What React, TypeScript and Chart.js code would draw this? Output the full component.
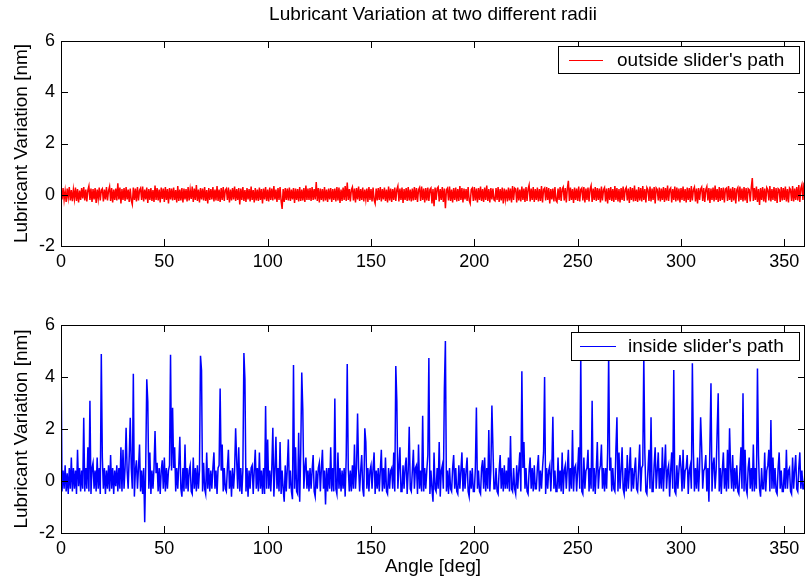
import React, { useEffect, useRef } from 'react';
import { Chart, registerables } from 'chart.js';

Chart.register(...registerables);

const FONT = "'Liberation Sans', Arial, Helvetica, sans-serif";

const TITLE = 'Lubricant Variation at two different radii';
const Y_TITLE = 'Lubricant Variation [nm]';
const X_TITLE = 'Angle [deg]';
const OUTSIDE_LABEL = "outside slider's path";
const INSIDE_LABEL = "inside slider's path";

const X_TICKS = [0, 50, 100, 150, 200, 250, 300, 350];
const Y_TICKS = [-2, 0, 2, 4, 6];
const X_MIN = 0;
const X_MAX = 360;
const Y_MIN = -2;
const Y_MAX = 6;
const STEP_DEG = 0.5; // sample spacing of the series below

// outside slider's path (nm), one value every 0.5 deg from 0 to 360
const outsideValues = [
  .22,-.18,.26,-.2,.15,-.28,.24,-.12,.3,-.22,.18,-.25,.2,-.16,.28,-.24,.22,-.3,.16,-.2,
  .26,-.14,.3,-.22,.2,-.26,.18,.34,-.2,.24,-.28,.22,-.18,.26,-.32,.2,-.16,.28,-.22,.18,
  .24,-.26,.2,-.18,.3,-.22,.16,.32,-.24,.26,-.3,.2,-.2,.24,-.22,.45,-.18,.28,-.34,.22,
  -.2,.26,-.24,.3,-.18,.2,-.28,.24,-.22,-.38,.28,-.2,.24,-.26,.3,-.22,.18,.26,-.2,.32,
  -.26,.2,-.18,.28,-.32,.22,-.2,.26,-.24,.18,-.28,.36,-.2,.26,-.22,.2,-.3,.28,-.16,.24,
  -.28,.3,-.2,.22,-.34,.26,-.18,.24,-.22,.28,-.2,.18,-.3,.34,-.24,.2,-.22,.26,-.3,.24,
  -.18,.22,-.26,.3,-.22,.2,-.16,.32,-.28,.24,-.2,.38,-.24,.2,-.3,.26,-.18,.24,-.22,.3,
  -.24,.18,-.34,.26,-.2,.22,-.18,.3,-.26,.2,-.22,.34,-.24,.2,-.28,.26,-.2,.3,-.24,.18,
  .24,-.2,.28,-.3,.2,-.22,.26,-.18,.32,-.24,.22,-.2,.26,-.38,.24,-.2,.3,-.24,.18,-.28,
  .26,-.18,.22,-.26,.32,-.2,.18,-.3,.26,-.22,.2,-.24,.28,-.2,.22,-.34,.24,-.18,.3,-.24,
  .2,-.26,.28,-.2,.24,-.22,.34,-.18,.2,-.28,.26,-.2,.3,-.24,-.55,.22,-.28,.26,-.2,.24,
  -.22,.28,-.24,.2,-.18,.26,-.32,.24,-.2,.22,-.26,.3,-.24,.2,-.22,.26,-.28,.36,-.2,.24,
  -.2,.26,-.24,.3,-.2,.22,-.18,.5,-.24,.26,-.3,.24,-.2,.22,-.26,.3,-.22,.2,-.28,.24,
  -.18,.26,-.28,.22,-.2,.24,-.26,.3,-.22,.28,-.32,.2,-.24,.28,-.2,.34,-.24,.48,-.2,.22,
  -.26,.2,.3,-.22,.24,-.3,.26,-.18,.32,-.24,.22,-.2,.28,-.26,.2,-.18,.24,-.28,.3,-.2,
  .22,-.26,.28,-.2,-.34,.24,-.22,.26,-.2,.3,-.26,.22,-.18,.28,-.24,.2,-.3,.32,-.22,.24,
  -.28,.22,-.2,.28,-.24,.2,.34,-.26,.24,-.2,.28,-.32,.22,-.2,.26,-.24,.3,-.22,.2,-.26,
  .24,-.22,.3,-.2,.26,-.28,.2,.28,-.24,.32,-.2,.24,-.3,.26,-.22,.28,-.24,.2,.26,-.34,
  .22,-.45,.28,-.2,.24,.3,-.26,.22,-.2,.3,-.28,.24,-.53,.2,.26,-.22,.32,-.24,.2,-.3,
  .26,-.2,.28,-.26,.22,-.24,.34,-.2,.26,-.3,.24,-.18,.22,-.24,.3,-.22,-.34,.2,.26,-.24,
  .3,-.22,.24,-.3,.26,-.2,.32,-.24,.22,-.28,.28,-.2,.36,-.24,.22,-.3,.26,-.18,.24,-.2,
  -.24,.26,-.2,.3,-.28,.22,-.22,.28,-.34,.24,-.18,.2,-.26,.28,-.22,.24,-.3,.34,-.2,.26,
  .22,-.3,.28,-.22,.2,-.26,.32,-.2,.24,-.28,.3,-.24,.22,.38,-.26,.24,-.2,.3,-.28,.22,
  -.2,.28,-.26,.22,-.24,.34,-.3,.2,.26,-.22,.3,-.2,.26,-.34,.22,-.18,.24,-.26,.3,-.22,
  -.28,.24,-.2,.3,-.24,.22,.3,-.22,.26,-.3,.24,.54,-.24,.28,-.2,.22,-.32,.28,-.2,.24,
  -.24,.32,-.26,.2,.26,-.22,.3,-.3,.24,-.2,.28,-.26,.22,.36,-.28,.24,-.2,.3,-.24,.26,
  -.2,.24,-.3,.32,-.22,.2,.28,-.26,.24,-.34,.26,-.2,.3,-.24,.22,-.28,.34,-.2,.26,-.26,
  .22,-.3,.26,-.2,.32,-.24,.2,.28,-.22,.24,-.32,.3,-.2,.26,-.26,.36,-.24,.2,-.28,.3,
  -.22,.26,-.26,.34,-.2,.22,-.3,.28,.2,-.24,.32,-.26,.24,-.2,.3,-.34,.26,.2,-.22,.28,
  -.26,.24,-.2,.3,-.28,.26,-.22,.36,-.24,.2,.26,-.3,.22,-.2,.32,-.26,.28,-.22,.24,-.3,
  .26,-.2,.32,-.24,.22,-.3,.28,-.2,.26,-.28,.34,-.22,.2,.3,-.26,.24,-.34,.26,-.2,.22,
  .3,-.24,.26,-.28,.2,.32,-.22,.26,-.32,.24,-.2,.28,-.26,.36,-.2,.22,-.28,.3,-.24,.26,
  -.2,.28,-.3,.22,.26,-.24,.34,-.2,.24,-.28,.3,-.22,.26,-.34,.2,.28,-.26,.32,-.2,.24,
  -.26,.3,-.22,.26,-.32,.24,.2,-.26,.28,.65,-.24,.26,-.2,.32,-.28,.22,-.4,.26,-.2,.3,
  -.26,.24,-.3,.28,.2,-.22,.34,-.26,.22,-.2,.3,-.24,.26,-.32,.24,.2,-.28,.3,-.22,.26,
  -.2,.32,-.26,.22,-.3,.26,.2,-.24,.34,-.26,.24,-.2,.3,-.22,.38,-.28,.26,.4,-.2,.45,
  .5,
];

// inside slider's path (nm): background level, one value every 0.5 deg
const insideBase = [
  .5,-.4,.4,-.3,.6,-.4,.3,-.5,.5,-.3,.9,-.4,.5,-.3,.4,-.5,1.2,-.2,.5,-.4,
  .4,-.3,.8,-.4,.5,-.3,1.3,-.4,.4,-.5,.5,.7,-.3,.4,-.4,.9,-.3,.5,-.5,.4,
  .9,-.3,.5,-.5,.4,-.3,.6,-.4,1.0,-.3,.5,-.5,.4,-.2,.6,-.4,.5,-.3,1.3,-.4,
  1.2,-.3,.5,-.5,.4,-.3,.9,-.4,.5,-.3,.6,-.6,.4,.8,-.3,.5,1.4,-.4,.4,-.5,
  .5,-.3,.6,-.4,.4,-.3,1.1,-.5,.4,-.3,.5,-.4,.3,.7,-.4,.5,-.5,.4,.8,-.3,
  .9,-.4,.5,-.3,.4,.6,-.5,.4,-.3,.5,1.3,-.4,.5,-.3,.6,1.7,-.3,-.6,.5,-.4,
  1.4,-.3,.5,-.4,.4,.6,-.4,-.5,.9,-.3,.5,-.4,.6,-.3,.4,-.5,.5,-.4,.7,-.3,
  -.5,1.1,-.3,.5,-.4,.4,-.3,.5,1.1,-.3,.4,-.5,.5,.6,-.3,.4,1.4,-.4,.5,-.3,
  -.4,.5,1.2,-.3,.4,-.6,.5,-.3,.4,-.4,.8,-.3,1.3,-.4,.5,-.5,.4,-.3,.5,-.4,
  .5,-.6,.4,-.3,.5,.6,-.5,.4,1.2,-.3,.5,-.4,1.1,-.3,.4,-.5,.5,-.5,.4,-.3,
  1.6,-.3,.4,-.4,.5,-.3,-.6,.4,1.7,-.3,.5,-.4,1.5,-.5,.4,-.3,-.8,.6,-.4,.5,
  1.6,-.3,.4,-.4,-.7,.5,-.3,1.3,-.4,-.5,.4,-.8,1.1,-.4,.6,-.3,.5,.9,-.3,.4,
  -.4,.5,-.3,.4,1.0,-.4,-.6,.4,-.3,.5,.7,-.4,.5,1.2,-.3,.4,-.9,.5,-.4,.5,
  -.3,1.3,-.4,.5,-.4,.6,-.3,-.5,1.1,-.3,.5,-.4,.4,-.3,.5,-.6,.9,-.3,.5,-.4,
  .4,-.4,.6,-.3,1.4,-.3,.5,-.5,.5,-.4,.4,1.0,-.3,-.6,.4,1.5,-.3,.5,-.4,.4,
  .6,-.3,.5,1.1,-.5,.4,-.3,.5,-.4,.4,1.2,-.4,.5,-.3,.9,-.4,-.5,.5,-.3,.4,
  .5,-.3,1.1,-.4,-.5,.4,-.3,.5,1.3,-.4,-.4,.6,-.3,.5,.9,-.5,.4,1.5,-.3,-.4,
  .4,1.2,-.3,.5,.6,-.5,1.4,-.3,.4,-.4,1.8,-.4,.5,-.3,.4,1.0,-.4,-.5,.4,-.3,
  -.8,1.1,-.3,-.4,.5,-.3,1.5,-.6,.4,.6,-.3,.5,.9,-.4,.4,-.5,.5,-.3,-.4,.5,
  1.0,-.3,.5,-.4,-.5,.6,-.3,.4,1.1,-.4,.5,-.3,.4,.9,-.4,-.6,.4,-.3,.5,-.4,
  -.4,.5,1.1,-.3,.4,-.4,-.5,.5,.8,-.3,.9,-.4,.5,-.3,1.2,-.4,.4,-.5,1.3,-.3,
  -.3,.5,-.4,-.5,.4,1.0,-.3,.5,-.4,.6,-.3,.4,-.3,.9,-.4,1.6,-.3,-.4,.5,-.3,
  -.5,.6,-.3,.4,1.1,-.4,-.4,.5,1.5,-.3,.5,-.4,-.5,.4,.9,-.3,.5,-.4,.6,-.3,
  -.3,.5,1.0,-.4,.4,-.3,.5,1.1,-.4,-.5,.5,-.3,.4,.6,-.4,.5,.9,-.3,.4,-.4,
  -.4,.9,-.3,.4,-.4,1.1,-.5,.4,.6,-.3,.5,1.2,-.4,.5,-.3,1.6,-.4,.5,.6,-.4,
  .4,1.3,-.3,.5,-.4,-.5,.9,-.3,.4,.5,1.2,-.4,.5,-.3,1.0,-.4,.5,-.5,.4,1.5,
  -.3,.4,.6,1.4,-.3,.5,-.4,.5,-.3,1.1,-.3,.4,.9,-.4,.5,-.3,-.4,1.2,-.3,-.4,
  1.1,-.3,.4,1.3,-.3,-.5,.5,-.4,1.0,-.3,.4,1.3,-.4,.5,-.3,.4,.9,-.3,-.4,.5,
  1.4,-.4,.5,.6,-.3,1.1,-.4,-.5,.4,1.2,-.3,.5,-.4,-.4,.6,1.3,-.3,.4,1.1,-.3,
  .5,-.3,1.3,-.4,.5,1.4,-.3,.4,.6,-.6,.4,1.1,-.3,.5,-.4,-.5,.6,-.3,.4,1.0,
  .5,-.4,1.2,-.3,.4,.5,1.0,-.5,.4,.6,-.3,.4,1.1,-.4,.5,-.3,.9,-.4,.5,-.3,
  1.3,-.3,.4,.5,1.0,-.4,.5,-.8,1.4,-.3,-.4,.6,.9,-.3,.4,1.9,-.3,-.4,.5,-.5,
  .4,1.1,-.3,.5,-.4,1.2,-.3,-.6,.5,-.3,1.0,-.4,.5,-.3,.6,-.4,-.5,.4,1.3,-.3,
  .4,-.4,1.2,-.3,-.5,.5,.9,-.3,.5,-.4,1.4,-.4,.5,-.3,.4,1.0,-.3,-.6,.5,-.3,
  -.3,1.1,-.4,.4,.6,1.2,-.4,.5,-.3,.9,-.3,.5,-.4,-.5,.5,1.1,-.3,.4,-.4,-.4,
  .5,-.3,1.2,-.3,.4,.5,-.4,-.5,.9,-.3,.4,1.0,-.3,-.4,.5,1.1,-.3,.4,-.3,-.3,
  .4,
];

// isolated spikes of the inside series: angle (deg) and height (nm)
const insideSpikeAngles = [
  0, 11, 14, 19.5, 31.5, 33.5, 35, 40.5, 41.5, 42, 45.5, 53, 54, 67.5, 68, 77, 84.5, 88.5, 89,
  99, 102.5, 112.5, 115, 116.5, 117, 132.5, 138.5, 143.5, 147, 162, 162.5, 168.5, 175, 178,
  185.5, 186, 201, 207, 208.5, 217.5, 223, 234, 238, 247.5, 251.5, 257, 265, 269, 282, 285.5,
  296.5, 305.5, 309.5, 314.5, 318, 323.5, 330, 337, 343.5,
];
const insideSpikeValues = [
  5.2, 2.43, 3.09, 4.88, 2.05, 2.43, 4.12, -1.59, 3.91, 3.05, 1.92, 4.86, 2.82, 4.82, 4.25, 3.56, 2.03, 4.92, 3.9,
  2.88, 2.05, 4.46, 1.86, 4.17, 2.73, 3.17, 4.5, 2.6, 2.03, 4.42, 3.09, 2.09, 2.51, 4.73,
  3.53, 5.38, 2.83, 1.96, 2.9, 1.73, 4.22, 4.0, 2.47, 1.96, 4.8, 3.09, 4.85, 2.45, 4.8, 2.45,
  4.27, 4.53, 2.45, 3.76, 3.37, 2.03, 3.37, 4.33, 2.35,
];

const insideValues = insideBase.slice();
insideSpikeAngles.forEach((a, i) => {
  insideValues[Math.round(a / STEP_DEG)] = insideSpikeValues[i];
});

const toPoints = (vals: number[]) => vals.map((v, i) => ({ x: i * STEP_DEG, y: v }));

const CANVAS_W = 806;
const CANVAS_H = 291;

const framePlugin = {
  id: 'matlabFrame',
  afterDatasetsDraw(chart: any, _args: any, opts: any) {
    const { ctx, chartArea: a, scales } = chart;
    const xs = scales.x;
    const ys = scales.y;
    const T = 7;
    ctx.save();
    ctx.strokeStyle = '#000';
    ctx.lineWidth = 1;
    ctx.beginPath();
    xs.ticks.forEach((t: any) => {
      const px = Math.round(xs.getPixelForValue(t.value)) + 0.5;
      ctx.moveTo(px, a.bottom);
      ctx.lineTo(px, a.bottom - T);
      ctx.moveTo(px, a.top);
      ctx.lineTo(px, a.top + T);
    });
    ys.ticks.forEach((t: any) => {
      const py = Math.round(ys.getPixelForValue(t.value)) + 0.5;
      ctx.moveTo(a.left, py);
      ctx.lineTo(a.left + T, py);
      ctx.moveTo(a.right, py);
      ctx.lineTo(a.right - T, py);
    });
    ctx.stroke();
    ctx.strokeRect(
      Math.round(a.left) + 0.5,
      Math.round(a.top) + 0.5,
      Math.round(a.right - a.left) - 1,
      Math.round(a.bottom - a.top)
    );

    // legend box
    const lg = opts.legend;
    const ds = chart.data.datasets[0];
    ctx.font = `${lg.fontSize}px ${FONT}`;
    const tw = ctx.measureText(ds.label).width;
    const w = lg.padL + lg.lineLen + lg.gap + tw + lg.padR;
    const right = Math.round(a.right) - lg.rightGap;
    const left = Math.round(right - w);
    const top = Math.round(a.top) + lg.topGap;
    ctx.fillStyle = '#fff';
    ctx.fillRect(left, top, right - left, lg.h);
    ctx.strokeStyle = '#000';
    ctx.strokeRect(left + 0.5, top + 0.5, right - left, lg.h);
    const ly = Math.round(top + lg.h / 2) + 0.5;
    ctx.strokeStyle = ds.borderColor;
    ctx.lineWidth = 1;
    ctx.beginPath();
    ctx.moveTo(left + lg.padL, ly);
    ctx.lineTo(left + lg.padL + lg.lineLen, ly);
    ctx.stroke();
    ctx.fillStyle = '#000';
    ctx.textBaseline = 'alphabetic';
    ctx.textAlign = 'left';
    ctx.fillText(ds.label, left + lg.padL + lg.lineLen + lg.gap, top + lg.baseline);
    ctx.restore();
  },
};

function makeChart(canvas: HTMLCanvasElement, cfg: any) {
  return new Chart(canvas, {
    type: 'line',
    data: {
      datasets: [
        {
          label: cfg.label,
          data: toPoints(cfg.values),
          borderColor: cfg.color,
          backgroundColor: cfg.color,
          borderWidth: 1.5,
          pointRadius: 0,
          tension: 0,
          fill: false,
        },
      ],
    },
    options: {
      responsive: false,
      animation: false,
      devicePixelRatio: 1,
      events: [],
      layout: {
        autoPadding: false,
        padding: { top: cfg.padTop, left: 0, right: 1, bottom: 0 },
      },
      plugins: {
        legend: { display: false },
        title: { display: false },
        tooltip: { enabled: false },
        matlabFrame: { legend: cfg.legend },
      } as any,
      scales: {
        x: {
          type: 'linear',
          min: X_MIN,
          max: X_MAX,
          grid: { display: false, drawTicks: false },
          border: { display: false },
          afterBuildTicks: (s: any) => {
            s.ticks = X_TICKS.map((v) => ({ value: v }));
          },
          afterFit: (s: any) => {
            s.height = cfg.axisH;
          },
          ticks: {
            color: '#000',
            font: { family: FONT, size: 18 },
            padding: 5,
            maxRotation: 0,
            autoSkip: false,
          },
          title: {
            display: cfg.showXTitle,
            text: X_TITLE,
            color: '#000',
            font: { family: FONT, size: 19 },
            padding: { top: 0, bottom: 4 },
          },
        },
        y: {
          type: 'linear',
          min: Y_MIN,
          max: Y_MAX,
          grid: { display: false, drawTicks: false },
          border: { display: false },
          afterBuildTicks: (s: any) => {
            s.ticks = Y_TICKS.map((v) => ({ value: v }));
          },
          afterFit: (s: any) => {
            s.width = 61;
          },
          ticks: {
            color: '#000',
            font: { family: FONT, size: 18 },
            padding: 6,
            autoSkip: false,
          },
          title: {
            display: true,
            text: Y_TITLE,
            color: '#000',
            font: { family: FONT, size: 19 },
            padding: { top: 10, bottom: 0 },
          },
        },
      },
    } as any,
    plugins: [framePlugin as any],
  });
}

export default function App() {
  const topRef = useRef<HTMLCanvasElement>(null);
  const botRef = useRef<HTMLCanvasElement>(null);

  useEffect(() => {
    const c1 = makeChart(topRef.current!, {
      label: OUTSIDE_LABEL,
      values: outsideValues,
      color: '#ff0000',
      padTop: 41,
      axisH: CANVAS_H - 246,
      showXTitle: false,
      legend: { fontSize: 19, rightGap: 6, topGap: 5, h: 27, padL: 11, lineLen: 34, gap: 14, padR: 15, baseline: 20 },
    });
    const c2 = makeChart(botRef.current!, {
      label: INSIDE_LABEL,
      values: insideValues,
      color: '#0000ff',
      padTop: 34,
      axisH: CANVAS_H - 242,
      showXTitle: true,
      legend: { fontSize: 19, rightGap: 6, topGap: 7, h: 28, padL: 9, lineLen: 36, gap: 12, padR: 15, baseline: 20 },
    });
    return () => {
      c1.destroy();
      c2.destroy();
    };
  }, []);

  return (
    <div
      style={{
        position: 'fixed',
        left: 0,
        top: 0,
        width: CANVAS_W,
        height: CANVAS_H * 2,
        background: '#fff',
        overflow: 'hidden',
      }}
    >
      <canvas
        ref={topRef}
        width={CANVAS_W}
        height={CANVAS_H}
        style={{ position: 'absolute', left: 0, top: 0, width: CANVAS_W, height: CANVAS_H }}
      />
      <canvas
        ref={botRef}
        width={CANVAS_W}
        height={CANVAS_H}
        style={{ position: 'absolute', left: 0, top: CANVAS_H, width: CANVAS_W, height: CANVAS_H }}
      />
      <div
        style={{
          position: 'absolute',
          left: 61,
          width: 744,
          top: 4,
          textAlign: 'center',
          fontFamily: FONT,
          fontSize: 19,
          lineHeight: '19px',
          color: '#000',
          whiteSpace: 'nowrap',
        }}
      >
        {TITLE}
      </div>
    </div>
  );
}
